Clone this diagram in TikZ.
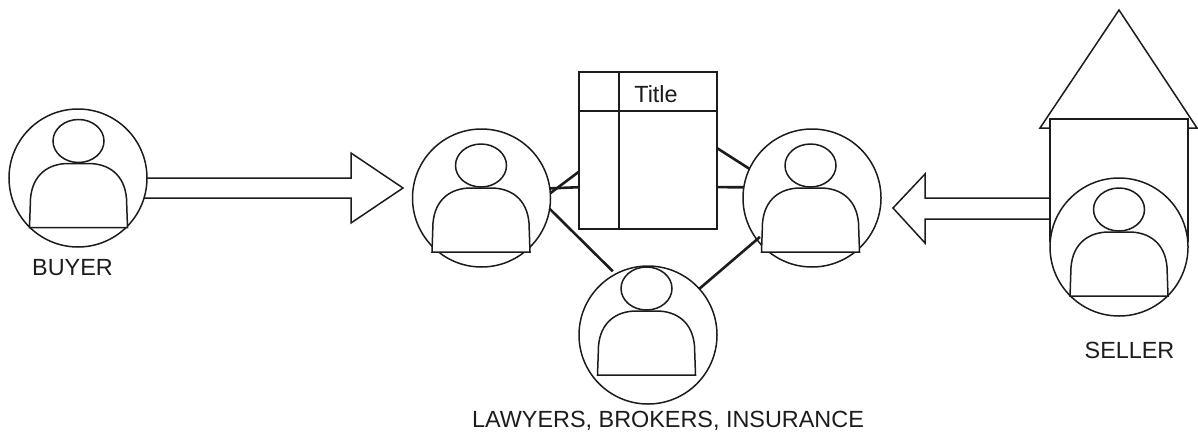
\documentclass[tikz,border=0pt]{standalone}
\usepackage{fontspec}
\setmainfont{Liberation Sans}
\definecolor{ink}{HTML}{1C1C1C}
\tikzset{
  outline/.style={draw=ink,line width=1.5pt},
  disc/.style={circle,outline,fill=white,minimum size=138pt,inner sep=0pt,outer sep=0pt},
  link/.style={draw=ink,line width=2.6pt},
  caption/.style={inner sep=0pt,text=ink,text depth=0pt,font=\fontsize{23.4}{27}\selectfont},
  pics/person/.style={code={
    \draw[outline,fill=white] (-49,65) -- (-48,36)
      .. controls (-46,12) and (-30,1) .. (-10,1) -- (10,1)
      .. controls (30,1) and (46,12) .. (48,36) -- (49,65) -- cycle;
    \draw[outline,fill=white] (0,-21.5) ellipse [x radius=25.5pt,y radius=21.5pt];
  }}
}
\begin{document}
\begin{tikzpicture}[x=1pt,y=-1pt]
\useasboundingbox (0,0) rectangle (1198,434);
% people discs
\node[disc] (buyer) at (78,178) {};
\node[disc] (left) at (481.5,198) {};
\node[disc] (right) at (812,198) {};
\node[disc] (bottom) at (648,335) {};
% table
\node[outline,fill=white,minimum width=138pt,minimum height=157pt,inner sep=0pt,outer sep=0pt] (tbl) at (648,150.5) {};
% connectors
\draw[link] (left.4) -- (tbl.197);
\draw[link] (left.8) -- (tbl.208.5);
\draw[link] (right.155) -- (tbl.2);
\draw[link] (right.171) -- (tbl.-28);
\draw[link,shorten >=4pt] (left.-9) -- (bottom.118);
\draw[link,shorten >=-4pt] (bottom.42) -- (right.217);
% table rules
\coordinate (hl) at (579,111);
\coordinate (hr) at (717,111);
\coordinate (vt) at (619,72);
\coordinate (vb) at (619,229);
\draw[outline] (hl) -- (hr);
\draw[outline] (vt) -- (vb);
\node[caption] (title) at (656,94) {Title};
% house
\draw[outline,fill=white] (1119,10) -- (1197,128) -- (1040,128) -- cycle;
\node[outline,fill=white,minimum width=138pt,minimum height=122pt,inner sep=0pt,outer sep=0pt] (house) at (1119,180) {};
\node[disc] (seller) at (1119,247) {};
% block arrows
\coordinate (bh1) at (351,178);
\coordinate (bh2) at (351,153);
\coordinate (btip) at (403,188);
\coordinate (bh3) at (351,223);
\coordinate (bh4) at (351,198);
\draw[outline] (buyer.0) -- (bh1) -- (bh2) -- (btip) -- (bh3) -- (bh4) -- (buyer.-17);
\coordinate (sh1) at (925,198);
\coordinate (sh2) at (925,174);
\coordinate (stip) at (893,208);
\coordinate (sh3) at (925,243);
\coordinate (sh4) at (925,219);
\coordinate (se1) at (1050,198);
\coordinate (se2) at (1050,219);
\draw[outline] (se1) -- (sh1) -- (sh2) -- (stip) -- (sh3) -- (sh4) -- (se2);
% persons
\pic at (78.5,162.5) {person};
\pic at (481,187) {person};
\pic at (810.5,187) {person};
\pic at (646.5,310) {person};
\pic at (1119,231) {person};
% captions
\node[caption] (lb) at (72.5,267) {BUYER};
\node[caption] (ls) at (1129.5,350) {SELLER};
\node[caption] (ll) at (668,419) {LAWYERS, BROKERS, INSURANCE};
\end{tikzpicture}
\end{document}
